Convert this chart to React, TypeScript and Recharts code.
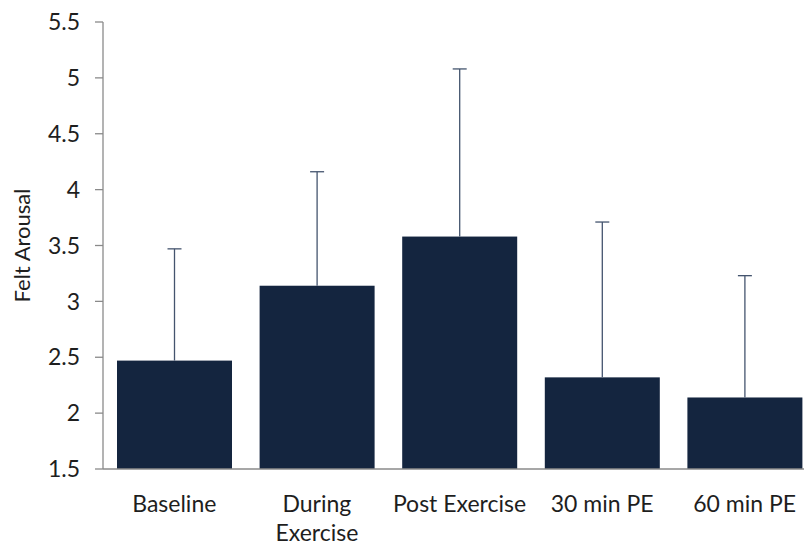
import { Bar, BarChart, XAxis, YAxis } from "recharts";

// Felt arousal across the exercise session (mean, with +1 SD whisker)
const categories = ["Baseline", "During Exercise", "Post Exercise", "30 min PE", "60 min PE"];
const tickLines = [["Baseline"], ["During", "Exercise"], ["Post Exercise"], ["30 min PE"], ["60 min PE"]];
const means = [2.47, 3.14, 3.58, 2.32, 2.14];
const sds = [1.0, 1.02, 1.5, 1.39, 1.09];
const yTicks = [1.5, 2, 2.5, 3, 3.5, 4, 4.5, 5, 5.5];

const Y_MIN = 1.5;
const Y_MAX = 5.5;
const BAR_COLOR = "#14253f";
const WHISKER_COLOR = "#44546e";
const TEXT_COLOR = "#1e1e1e";
const AXIS_COLOR = "#8a8a8a";
const FONT = "Lato, 'Open Sans', sans-serif";
const FONT_SIZE = 23;

const data = categories.map((name, i) => ({
  name,
  mean: means[i],
  sd: sds[i]
}));

// bar plus an upward-only error whisker, scaled from the bar's own geometry
function BarWithWhisker(props: any) {
  const { x, y, width, height, payload } = props;
  const pxPerUnit = height / (payload.mean - Y_MIN);
  const top = y - payload.sd * pxPerUnit;
  const cx = x + width / 2;
  return (
    <g>
      <rect x={x} y={y} width={width} height={height} fill={BAR_COLOR} />
      <line x1={cx} x2={cx} y1={y} y2={top} stroke={WHISKER_COLOR} strokeWidth={1.3} />
      <line x1={cx - 7} x2={cx + 7} y1={top} y2={top} stroke={WHISKER_COLOR} strokeWidth={1.3} />
    </g>
  );
}

function CategoryTick(props: any) {
  const { x, y, index } = props;
  const lines = tickLines[index] ?? [];
  return (
    <text
      x={x}
      y={y}
      textAnchor="middle"
      fill={TEXT_COLOR}
      fontSize={FONT_SIZE}
      fontFamily={FONT}
    >
      {lines.map((l: string, i: number) => (
        <tspan key={i} x={x} dy={i === 0 ? 35 : 29}>
          {l}
        </tspan>
      ))}
    </text>
  );
}

export default function App() {
  return (
    <div
      style={{
        position: "absolute",
        left: 0,
        top: 0,
        width: 804,
        height: 550,
        overflow: "hidden",
        background: "#fff"
      }}
    >
      <BarChart
        width={816}
        height={550}
        data={data}
        margin={{ top: 22, right: 0, bottom: 0, left: 0 }}
        barSize={115}
      >
        <XAxis
          dataKey="name"
          height={81}
          interval={0}
          tickLine={false}
          axisLine={{ stroke: AXIS_COLOR, strokeWidth: 1.3 }}
          tick={<CategoryTick />}
        />
        <YAxis
          width={103}
          domain={[Y_MIN, Y_MAX]}
          ticks={yTicks}
          interval={0}
          allowDataOverflow
          tickSize={8}
          tickMargin={15}
          axisLine={{ stroke: AXIS_COLOR, strokeWidth: 1.3 }}
          tickLine={{ stroke: AXIS_COLOR, strokeWidth: 1.3 }}
          tick={{ fill: TEXT_COLOR, fontSize: FONT_SIZE, fontFamily: FONT }}
          label={{
            value: "Felt Arousal",
            angle: -90,
            position: "insideLeft",
            offset: 22,
            style: { textAnchor: "middle", fill: TEXT_COLOR, fontSize: FONT_SIZE - 1, fontFamily: FONT }
          }}
        />
        <Bar dataKey="mean" shape={<BarWithWhisker />} isAnimationActive={false} />
      </BarChart>
    </div>
  );
}
